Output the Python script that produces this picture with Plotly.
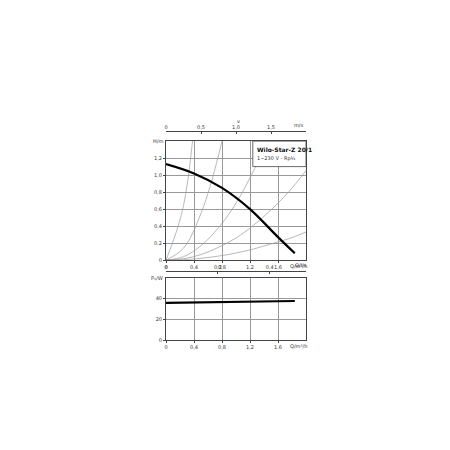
import plotly.graph_objects as go

Q = [0, 0.4, 0.8, 1.2, 1.6, 1.84]
H = [1.13, 1.02, 0.85, 0.6, 0.27, 0.08]
P = [36, 36.5, 37, 37.3, 37.6, 37.8]
Qs = [0, 0.25, 0.5, 0.75, 1.0, 1.25, 1.5, 1.75, 2.0]
sys1 = [0, 0.64, 2.55, None, None, None, None, None, None]
sys2 = [0, 0.14, 0.55, 1.23, 2.19, None, None, None, None]
sys3 = [0, 0.04, 0.17, 0.38, 0.67, 1.05, 1.5, None, None]
sys4 = [0, 0.016, 0.065, 0.15, 0.26, 0.41, 0.59, 0.8, 1.05]
sys5 = [0, 0.005, 0.021, 0.047, 0.083, 0.13, 0.19, 0.25, 0.33]

fig = go.Figure()
for s in [sys1, sys2, sys3, sys4, sys5]:
    fig.add_trace(go.Scatter(x=Qs, y=s, mode="lines", line=dict(color="#999", width=0.7, shape="spline"), xaxis="x", yaxis="y"))
fig.add_trace(go.Scatter(x=Q, y=H, mode="lines", line=dict(color="black", width=2.2, shape="spline"), xaxis="x", yaxis="y"))
fig.add_trace(go.Scatter(x=Q, y=P, mode="lines", line=dict(color="black", width=2.2), xaxis="x2", yaxis="y2"))
fig.add_trace(go.Scatter(x=[0], y=[0], mode="markers", marker=dict(opacity=0), xaxis="x3", yaxis="y"))
fig.add_trace(go.Scatter(x=[0], y=[0], mode="markers", marker=dict(opacity=0), xaxis="x4", yaxis="y"))

f = dict(size=5, color="#333", family="DejaVu Sans")
ax = dict(showline=True, linecolor="#444", mirror=True, gridcolor="#999", gridwidth=0.7, zeroline=False,
          ticks="outside", ticklen=2, tickcolor="#444", tickfont=f, automargin=False)
qv = [0, 0.4, 0.8, 1.2, 1.6]
qt = ["0", "0,4", "0,8", "1,2", "1,6"]
fig.update_layout(
    width=450, height=450, showlegend=False, plot_bgcolor="white", paper_bgcolor="white",
    margin=dict(l=158, r=152, t=118, b=110, autoexpand=False),
    xaxis=dict(ax, range=[0, 2.0], domain=[0, 1], anchor="y", tickvals=qv, ticktext=qt),
    yaxis=dict(ax, range=[0, 1.4], domain=[0.396, 0.932], anchor="x",
               tickvals=[0, 0.2, 0.4, 0.6, 0.8, 1.0, 1.2], ticktext=["0", "0,2", "0,4", "0,6", "0,8", "1,0", "1,2"]),
    xaxis2=dict(ax, range=[0, 2.0], domain=[0, 1], anchor="y2", tickvals=qv, ticktext=qt),
    yaxis2=dict(ax, range=[0, 60], domain=[0.036, 0.315], anchor="x2", tickvals=[0, 20, 40]),
    xaxis3=dict(range=[0, 2.0], overlaying="x", anchor="free", position=0.977, side="top", showgrid=False, zeroline=False,
                showline=True, linecolor="#444", ticks="inside", ticklen=2, tickfont=f, automargin=False,
                tickvals=[0, 0.5, 1.0, 1.5], ticktext=["0", "0,5", "1,0", "1,5"]),
    xaxis4=dict(range=[0, 0.54], overlaying="x", anchor="free", position=0.345, side="top", showgrid=False, zeroline=False,
                showline=True, linecolor="#444", ticks="inside", ticklen=2, tickfont=f, automargin=False,
                tickvals=[0, 0.2, 0.4], ticktext=["0", "0,2", "0,4"]),
    shapes=[dict(type="rect", xref="x", yref="y", x0=1.24, x1=2.0, y0=1.1, y1=1.4, fillcolor="white", line=dict(color="#444", width=0.8))],
    annotations=[
        dict(text="<b>Wilo-Star-Z 20/1</b>", xref="x", yref="y", x=1.27, y=1.37, showarrow=False, xanchor="left", yanchor="top", font=dict(size=6, color="#111", family="DejaVu Sans")),
        dict(text="1~230 V - Rp½", xref="x", yref="y", x=1.27, y=1.26, showarrow=False, xanchor="left", yanchor="top", font=f),
        dict(text="H/m", xref="paper", yref="y", x=-0.01, y=1.4, showarrow=False, xanchor="right", font=f),
        dict(text="P₁/W", xref="paper", yref="y2", x=-0.01, y=60, showarrow=False, xanchor="right", font=f),
        dict(text="Q/m³/h", xref="paper", yref="paper", x=1.02, y=0.39, showarrow=False, xanchor="right", yanchor="top", font=f),
        dict(text="Q/l/s", xref="paper", yref="paper", x=1.02, y=0.35, showarrow=False, xanchor="right", yanchor="bottom", font=f),
        dict(text="Q/m³/h", xref="paper", yref="paper", x=1.02, y=0.03, showarrow=False, xanchor="right", yanchor="top", font=f),
        dict(text="m/s", xref="paper", yref="paper", x=1.0, y=0.98, showarrow=False, xanchor="right", yanchor="bottom", font=f),
        dict(text="v", xref="paper", yref="paper", x=0.52, y=1.0, showarrow=False, yanchor="bottom", font=f),
    ],
)
fig.write_html("out.html")
